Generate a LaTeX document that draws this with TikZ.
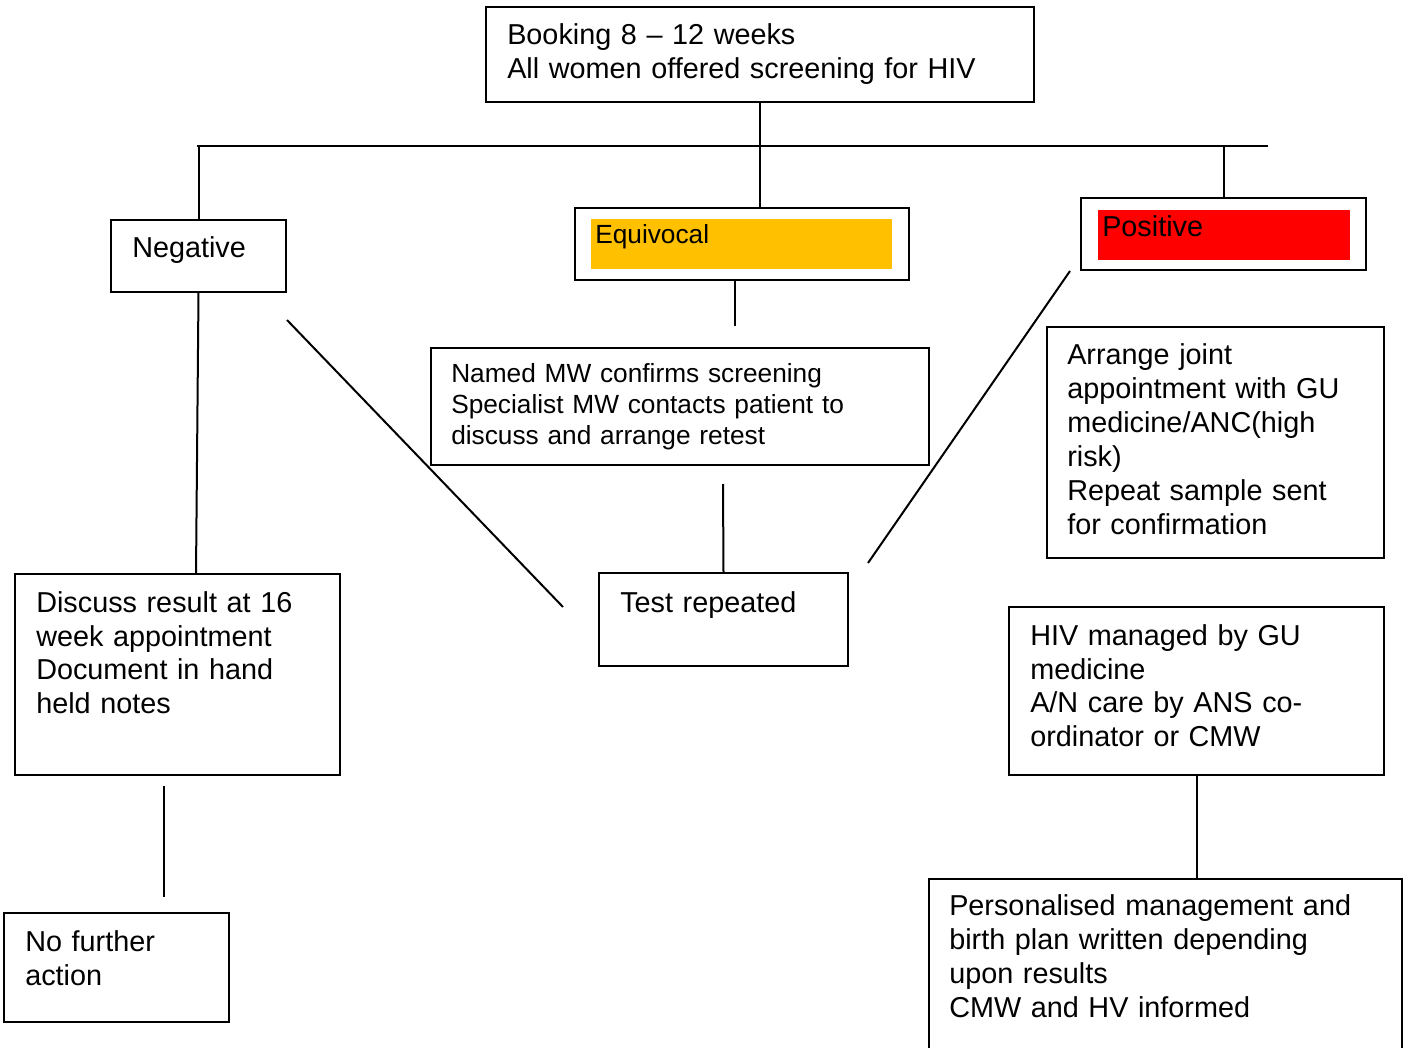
\documentclass[tikz,border=0pt]{standalone}
\usepackage{fontspec}
\setmainfont{Liberation Sans}
\usetikzlibrary{fit}
\definecolor{equivorange}{RGB}{255,192,0}
\definecolor{posred}{RGB}{255,0,0}
\newcommand\bodyfont{\fontsize{21.6}{25.5}\selectfont}
\newcommand\notefont{\fontsize{19.7}{23.25}\selectfont}
\tikzset{
  box/.style={draw=black, line width=1.5pt, rectangle, inner sep=0pt, fit={#1}},
  flag/.style={draw=none, fill=#1, rectangle, inner sep=0pt},
  txt/.style={anchor=base west, inner sep=0pt, align=left, text width=600pt, font=\bodyfont},
  smalltxt/.style={txt, font=\notefont},
  link/.style={draw=black, line width=1.5pt},
}
\begin{document}
\begin{tikzpicture}[x=0.75pt, y=-0.75pt]
\clip (0,0) rectangle (1404,1048);
\fill[white] (0,0) rectangle (1404,1048);

% boxes
\node[box={(486,7) (1034,102)}] (book) {};
\node[box={(111,220) (286,292)}] (neg) {};
\node[box={(575,208) (909,280)}] (equiv) {};
\node[flag=equivorange, fit={(591,219) (892,269)}] (equivfill) {};
\node[box={(1081,198) (1366,270)}] (pos) {};
\node[flag=posred, fit={(1098,210) (1350,260)}] (posfill) {};
\node[box={(431,348) (929,465)}] (named) {};
\node[box={(599,573) (848,666)}] (test) {};
\node[box={(1047,327) (1384,558)}] (arrange) {};
\node[box={(15,574) (340,775)}] (disc) {};
\node[box={(4,913) (229,1022)}] (nfa) {};
\node[box={(1009,607) (1384,775)}] (hiv) {};
\node[box={(929,879) (1402,1070)}] (pers) {};

% texts
\node[txt] (bookt) at (507,45) {Booking 8 -- 12 weeks\\All women offered screening for HIV};
\node[txt] (negt) at (132,258) {Negative};
\node[smalltxt] (equivt) at (595,244) {Equivocal};
\node[txt] (post) at (1102,237) {Positive};
\node[smalltxt] (namedt) at (451,383) {Named MW confirms screening\\Specialist MW contacts patient to\\discuss and arrange retest};
\node[txt] (testt) at (620,612) {Test repeated};
\node[txt] (arranget) at (1067,365) {Arrange joint\\appointment with GU\\medicine/ANC(high\\risk)\\Repeat sample sent\\for confirmation};
\node[txt] (disct) at (36,612) {Discuss result at 16\\week appointment\\Document in hand\\held notes};
\node[txt] (nfat) at (25,951) {No further\\action};
\node[txt] (hivt) at (1030,645) {HIV managed by GU\\medicine\\A/N care by ANS co-\\ordinator or CMW};
\node[txt] (perst) at (949,915) {Personalised management and\\birth plan written depending\\upon results\\CMW and HV informed};

% connector points
\coordinate (trunkL) at (197,146);
\coordinate (trunkR) at (1268,146);
\coordinate (trunkM) at (760,146);
\coordinate (eqEnd) at (735,326);
\coordinate (namedOut) at (723,484);
\coordinate (negFoot) at (196,574);
\coordinate (negDiagA) at (287,320);
\coordinate (negDiagB) at (563,607);
\coordinate (posDiagA) at (1070,271);
\coordinate (posDiagB) at (868,563);
\coordinate (discA) at (164,786);
\coordinate (discB) at (164,897);

% connectors
\draw[link] (trunkL) -- (trunkR);
\draw[link] (book.south) -- (trunkM) -- (trunkM |- equiv.north);
\draw[link] (neg.north |- trunkL) -- (neg.north);
\draw[link] (pos.north |- trunkR) -- (pos.north);
\draw[link] (equiv.south -| eqEnd) -- (eqEnd);
\draw[link] (namedOut) -- (test.north);
\draw[link] (neg.south) -- (negFoot);
\draw[link] (negDiagA) -- (negDiagB);
\draw[link] (posDiagA) -- (posDiagB);
\draw[link] (discA) -- (discB);
\draw[link] (hiv.south) -- (pers.north -| hiv.south);
\end{tikzpicture}
\end{document}
